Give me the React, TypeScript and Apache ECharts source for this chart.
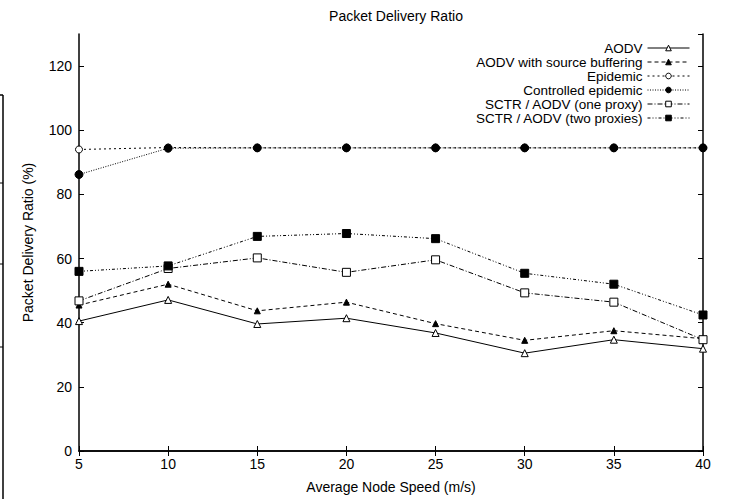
import React, { useEffect, useRef } from "react";
import * as echarts from "echarts";

const speeds = [5, 10, 15, 20, 25, 30, 35, 40];
const aodv = [40.5, 47.1, 39.6, 41.4, 36.8, 30.5, 34.7, 31.9];
const aodvBuffering = [45.5, 52.0, 43.7, 46.4, 39.7, 34.5, 37.5, 35.0];
const epidemic = [94.0, 94.6, 94.5, 94.5, 94.5, 94.5, 94.5, 94.5];
const controlledEpidemic = [86.2, 94.4, 94.5, 94.5, 94.5, 94.5, 94.5, 94.5];
const sctrOneProxy = [46.8, 56.9, 60.2, 55.7, 59.6, 49.3, 46.4, 34.7];
const sctrTwoProxies = [56.0, 57.7, 66.9, 67.8, 66.2, 55.4, 52.0, 42.4];

const seriesNames = [
  "AODV",
  "AODV with source buffering",
  "Epidemic",
  "Controlled epidemic",
  "SCTR / AODV (one proxy)",
  "SCTR / AODV (two proxies)",
];

const FONT = "Liberation Sans, Arial, sans-serif";

export default function App() {
  const ref = useRef<HTMLDivElement>(null);
  useEffect(() => {
    if (!ref.current) return;
    const chart = echarts.init(ref.current, null, { renderer: "svg" });

    const styles = [
      { data: aodv, symbol: "triangle", size: 7, filled: false, dash: "solid" as any, z: 5 },
      { data: aodvBuffering, symbol: "triangle", size: 6, filled: true, dash: [4, 3], z: 6 },
      { data: epidemic, symbol: "circle", size: 7, filled: false, dash: [2, 3], z: 3 },
      { data: controlledEpidemic, symbol: "circle", size: 8, filled: true, dash: [1, 1.5], z: 4 },
      { data: sctrOneProxy, symbol: "rect", size: 8, filled: false, dash: [5, 2, 1, 2], z: 7 },
      { data: sctrTwoProxies, symbol: "rect", size: 8, filled: true, dash: [3, 2, 1, 2, 1, 2], z: 8 },
    ];

    const series = styles.map((s, i) => ({
      name: seriesNames[i],
      type: "line",
      data: speeds.map((x, j) => [x, s.data[j]]),
      symbol: s.symbol,
      symbolSize: s.size,
      showAllSymbol: true,
      lineStyle: { color: "#000", width: 1, type: s.dash },
      itemStyle: {
        color: s.filled ? "#000" : "#fff",
        borderColor: "#000",
        borderWidth: 1,
      },
      emphasis: { disabled: true },
      z: s.z,
    }));

    const legendRows = [47, 61, 75, 89, 103, 117];
    const legends = seriesNames.map((n, i) => ({
      data: [n],
      right: 48,
      top: legendRows[i] - 6,
      orient: "horizontal",
      align: "right",
      itemWidth: 42,
      itemHeight: 7,
      itemGap: 0,
      padding: 0,
      selectedMode: false,
      lineStyle: { width: 1 },
      itemStyle: { borderWidth: 1 },
      textStyle: {
        fontFamily: FONT,
        fontSize: 13.5,
        lineHeight: 12,
        color: "#000",
        padding: [0, 0, 0, 0],
      },
    }));

    const axisCommon = {
      axisLine: { show: true, lineStyle: { color: "#000", width: 1.5 } },
      axisTick: { show: true, inside: true, length: 5, lineStyle: { color: "#000", width: 1 } },
      splitLine: { show: false },
    };

    chart.setOption({
      animation: false,
      backgroundColor: "#fff",
      title: {
        text: "Packet Delivery Ratio",
        left: 391,
        textAlign: "center",
        top: 4,
        textStyle: { fontFamily: FONT, fontSize: 14, fontWeight: "normal", color: "#000" },
      },
      legend: legends,
      grid: { left: 79, right: 35, top: 34, bottom: 46 },
      xAxis: [
        {
          type: "value",
          min: 5,
          max: 40,
          interval: 5,
          name: "Average Node Speed (m/s)",
          nameLocation: "middle",
          nameGap: 29,
          nameTextStyle: { fontFamily: FONT, fontSize: 14, color: "#000" },
          axisLabel: { fontFamily: FONT, fontSize: 14, color: "#000", margin: 6 },
          ...axisCommon,
        },
        {
          type: "value",
          position: "top",
          min: 5,
          max: 40,
          interval: 5,
          axisLabel: { show: false },
          ...axisCommon,
        },
      ],
      yAxis: [
        {
          type: "value",
          min: 0,
          max: 130,
          interval: 20,
          name: "Packet Delivery Ratio (%)",
          nameLocation: "middle",
          nameGap: 44,
          nameTextStyle: { fontFamily: FONT, fontSize: 14, color: "#000" },
          axisLabel: { fontFamily: FONT, fontSize: 14, color: "#000", margin: 7, showMaxLabel: false },
          ...axisCommon,
        },
        {
          type: "value",
          position: "right",
          min: 0,
          max: 130,
          interval: 20,
          axisLabel: { show: false },
          ...axisCommon,
        },
      ],
      series,
      graphic: [
        { type: "line", shape: { x1: 3, y1: 95, x2: 3, y2: 499 }, style: { stroke: "#000", lineWidth: 1.5 } },
        { type: "line", shape: { x1: 0, y1: 95, x2: 3, y2: 95 }, style: { stroke: "#000", lineWidth: 1.5 } },
        { type: "line", shape: { x1: 0, y1: 183, x2: 3, y2: 183 }, style: { stroke: "#000", lineWidth: 1 } },
        { type: "line", shape: { x1: 0, y1: 264, x2: 3, y2: 264 }, style: { stroke: "#000", lineWidth: 1 } },
        { type: "line", shape: { x1: 0, y1: 347, x2: 3, y2: 347 }, style: { stroke: "#000", lineWidth: 1 } },
      ],
    });

    return () => chart.dispose();
  }, []);

  return (
    <div
      ref={ref}
      style={{ position: "fixed", left: 0, top: 0, width: 738, height: 499, background: "#fff" }}
    />
  );
}
